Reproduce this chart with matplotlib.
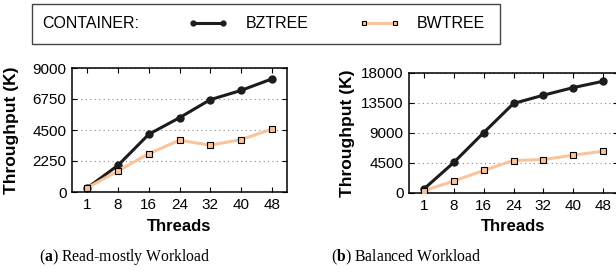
"""Throughput vs threads for BzTree / BwTree (read-mostly and balanced workloads)"""
import matplotlib
matplotlib.use('Agg')
import matplotlib.pyplot as plt
from matplotlib.patches import Rectangle
import numpy as np

plt.rcParams['font.family'] = ['Liberation Sans', 'DejaVu Sans']
plt.rcParams['mathtext.fontset'] = 'custom'
plt.rcParams['mathtext.rm'] = 'Liberation Serif'
plt.rcParams['mathtext.bf'] = 'Liberation Serif:bold'

THREADS = ["1", "8", "16", "24", "32", "40", "48"]

# (a) read-mostly workload, throughput in K ops/s
READ_BZTREE = [300, 1940, 4190, 5390, 6700, 7370, 8200]
READ_BWTREE = [300, 1530, 2780, 3760, 3400, 3800, 4550]

# (b) balanced workload
BAL_BZTREE = [600, 4580, 9050, 13430, 14670, 15810, 16760]
BAL_BWTREE = [350, 1790, 3380, 4870, 5020, 5670, 6270]

YTICKS_A = [0, 2250, 4500, 6750, 9000]
YTICKS_B = [0, 4500, 9000, 13500, 18000]

BZ_COLOR = '#1c1c1c'
BW_COLOR = '#f9c49c'

W, H = 616, 272
fig = plt.figure(figsize=(W / 100, H / 100), dpi=100)

ax_a = fig.add_axes([72 / W, 1 - 192 / H, 215 / W, 124 / H])
ax_b = fig.add_axes([409 / W, 1 - 193 / H, 209 / W, 120 / H])

panels = [
    (ax_a, READ_BZTREE, READ_BWTREE, YTICKS_A, -0.245),
    (ax_b, BAL_BZTREE, BAL_BWTREE, YTICKS_B, -0.26),
]

x = np.arange(len(THREADS))
for ax, bz, bw, yt, ylab_x in panels:
    ax.plot(x, bz, color=BZ_COLOR, lw=2.2, marker='o', ms=5,
            label='BZTREE', zorder=3)
    ax.plot(x, bw, color=BW_COLOR, lw=2.2, marker='s', ms=4.8,
            mfc=BW_COLOR, mec='black', mew=0.8, label='BWTREE', zorder=4)
    ax.set_xlim(-0.5, len(THREADS) - 0.5)
    ax.set_ylim(yt[0], yt[-1])
    ax.set_xticks(x)
    ax.set_xticklabels(THREADS)
    ax.set_yticks(yt)
    ax.tick_params(direction='in', top=True, right=True, length=3.5,
                   width=0.8, labelsize=11, pad=4)
    ax.grid(axis='y', linestyle=(0, (1, 3)), color='#888', lw=0.8)
    for s in ax.spines.values():
        s.set_linewidth(1.1)
    ax.set_ylabel("Throughput (K)", fontsize=12.5, fontweight='bold')
    ax.yaxis.set_label_coords(ylab_x, 0.5)
    ax.set_xlabel("Threads", fontsize=12, fontweight='bold')
    ax.xaxis.set_label_coords(0.5, -0.215)

# shared legend with its own frame
fig.add_artist(Rectangle((32 / W, 1 - 44 / H), 468 / W, 40 / H,
                         transform=fig.transFigure, fill=False,
                         ec='#444', lw=1.0))
fig.text(42 / W, 1 - 24 / H, "CONTAINER:", fontsize=11.5, va='center')
handles, labels = ax_a.get_legend_handles_labels()
fig.legend(handles, labels, loc='center left', bbox_to_anchor=(188 / W, 1 - 24 / H),
           ncol=2, frameon=False, fontsize=11.5, numpoints=2, markerscale=0.7,
           handlelength=2.5, handletextpad=1.1, columnspacing=3.2,
           borderpad=0, borderaxespad=0)

# captions
fig.text(125 / W, 1 - 257 / H, r"($\mathbf{a}$) Read-mostly Workload",
         family='Liberation Serif', fontsize=11.3, ha='center', va='center')
fig.text(406 / W, 1 - 257 / H, r"($\mathbf{b}$) Balanced Workload",
         family='Liberation Serif', fontsize=11.3, ha='center', va='center')

plt.savefig('out.png', dpi=100)
